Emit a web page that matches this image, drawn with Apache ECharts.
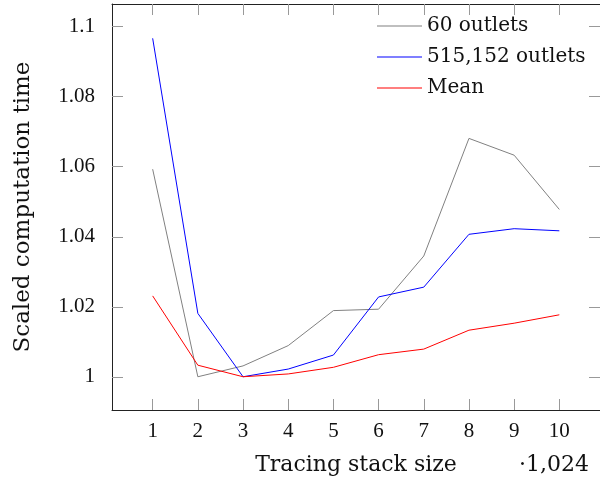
<!DOCTYPE html>
<html><head><meta charset="utf-8">
<script src="https://cdn.jsdelivr.net/npm/echarts@6/dist/echarts.min.js"></script>
<style>html,body{margin:0;padding:0;background:#fff}#c{width:600px;height:484px}</style>
</head><body><div id="c"></div>
<script>
const xValues = [1, 2, 3, 4, 5, 6, 7, 8, 9, 10];
const outlets60 = [1.0593, 1.0000, 1.0031, 1.0089, 1.0189, 1.0193, 1.0345, 1.0681, 1.0633, 1.0478];
const outlets515152 = [1.0967, 1.0181, 1.0000, 1.0022, 1.0062, 1.0228, 1.0256, 1.0407, 1.0423, 1.0417];
const meanValues = [1.0231, 1.0033, 1.0000, 1.0008, 1.0027, 1.0063, 1.0079, 1.0133, 1.0153, 1.0177];
const xTicks = [1, 2, 3, 4, 5, 6, 7, 8, 9, 10];
const yTicks = [1, 1.02, 1.04, 1.06, 1.08, 1.1];
const seriesNames = ['60 outlets', '515,152 outlets', 'Mean'];
const seriesColors = ['#808080', '#0000ff', '#ff0000'];

const tickFont = 'Liberation Serif';
const textFont = 'DejaVu Serif';
const chart = echarts.init(document.getElementById('c'));
const pair = (arr) => xValues.map((x, i) => [x, arr[i]]);
const tickStyle = {show: true, inside: true, length: 11, lineStyle: {color: '#999', width: 1}};
chart.setOption({
  animation: false,
  grid: {left: 112, top: 4, right: -3, bottom: 74, containLabel: false},
  legend: {
    orient: 'vertical', left: 377, top: 15, padding: 0, itemWidth: 45, itemHeight: 1, itemGap: 9,
    icon: 'rect',
    textStyle: {fontFamily: textFont, fontSize: 20, color: '#111', lineHeight: 22},
    data: seriesNames
  },
  xAxis: [{
    type: 'value', min: 0.1, max: 10.9, position: 'bottom',
    name: 'Tracing stack size', nameLocation: 'middle', nameGap: 44,
    nameTextStyle: {fontFamily: textFont, fontSize: 22, color: '#111'},
    axisLine: {show: true, onZero: false, lineStyle: {color: '#222', width: 1}},
    axisTick: Object.assign({customValues: xTicks}, tickStyle),
    axisLabel: {customValues: xTicks, fontFamily: tickFont, fontSize: 21, color: '#111', margin: 11},
    splitLine: {show: false}
  }, {
    type: 'value', min: 0.1, max: 10.9, position: 'top',
    axisLine: {show: true, onZero: false, lineStyle: {color: '#222', width: 1}},
    axisTick: Object.assign({customValues: xTicks}, tickStyle),
    axisLabel: {show: false}, splitLine: {show: false}
  }],
  yAxis: [{
    type: 'value', min: 0.9905, max: 1.1065, position: 'left',
    name: 'Scaled computation time', nameLocation: 'middle', nameGap: 77, nameRotate: 90,
    nameTextStyle: {fontFamily: textFont, fontSize: 23, color: '#111'},
    axisLine: {show: true, onZero: false, lineStyle: {color: '#222', width: 1}},
    axisTick: Object.assign({customValues: yTicks}, tickStyle),
    axisLabel: {customValues: yTicks, fontFamily: tickFont, fontSize: 21, color: '#111', margin: 17,
      formatter: (v) => String(Math.round(v * 100) / 100)},
    splitLine: {show: false}
  }, {
    type: 'value', min: 0.9905, max: 1.1065, position: 'right',
    axisLine: {show: true, onZero: false, lineStyle: {color: '#222', width: 1}},
    axisTick: Object.assign({customValues: yTicks}, tickStyle),
    axisLabel: {show: false}, splitLine: {show: false}
  }],
  series: [outlets60, outlets515152, meanValues].map((arr, i) => ({
    name: seriesNames[i], type: 'line', data: pair(arr), symbol: 'none',
    lineStyle: {color: seriesColors[i], width: 1}, itemStyle: {color: seriesColors[i]}
  })),
  graphic: [{
    type: 'text', left: 519, top: 454,
    style: {text: '·1,024', font: '22px "DejaVu Serif"', fill: '#111'}
  }]
});
</script></body></html>
